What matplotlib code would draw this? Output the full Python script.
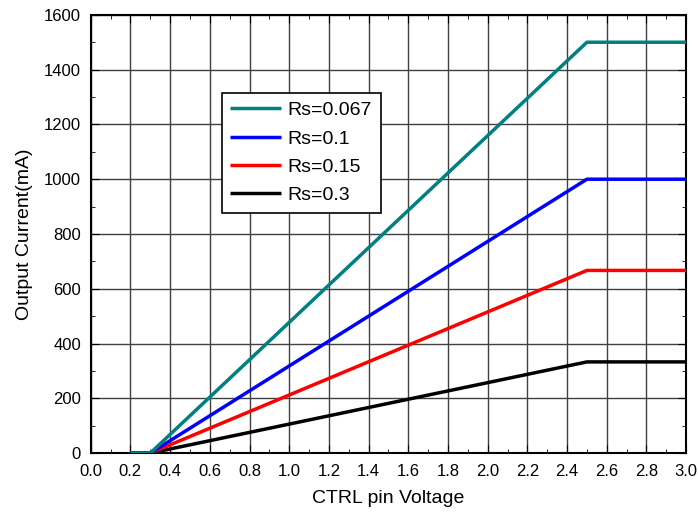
import matplotlib.pyplot as plt
from matplotlib.ticker import MultipleLocator

plt.rcParams['font.family'] = ['Liberation Sans', 'DejaVu Sans']

# CTRL pin voltage breakpoints
v = [0.2, 0.3, 2.5, 3.0]

# output current for each sense resistor (mA)
rs_labels = ['Rs=0.067', 'Rs=0.1', 'Rs=0.15', 'Rs=0.3']
i_067 = [0, 0, 1500, 1500]
i_01 = [0, 0, 1000, 1000]
i_015 = [0, 0, 667, 667]
i_03 = [0, 0, 333, 333]
colors = ['#008080', '#0000ff', '#ff0000', '#000000']

fig = plt.figure(figsize=(6.98, 5.12), dpi=100)
ax = fig.add_axes([0.130, 0.115, 0.853, 0.856])

series = [i_067, i_01, i_015, i_03]
# draw black first so teal ends up on top
for k in reversed(range(4)):
    ax.plot(v, series[k], color=colors[k], lw=2.5, label=rs_labels[k],
            solid_capstyle='butt', zorder=3 + (4 - k))

ax.set_xlim(0, 3.0)
ax.set_ylim(0, 1600)
ax.xaxis.set_major_locator(MultipleLocator(0.2))
ax.xaxis.set_minor_locator(MultipleLocator(0.1))
ax.yaxis.set_major_locator(MultipleLocator(200))
ax.yaxis.set_minor_locator(MultipleLocator(100))
ax.set_xticklabels([f'{x:.1f}' for x in ax.get_xticks()])
ax.tick_params(which='both', direction='in', top=True, right=True, labelsize=12)
ax.tick_params(which='major', length=6)
ax.tick_params(which='minor', length=3)
ax.tick_params(axis='x', pad=8)
ax.tick_params(axis='y', pad=7)
ax.grid(True, which='major', color='#404040', lw=1)
for s in ax.spines.values():
    s.set_linewidth(1.5)

ax.set_xlabel('CTRL pin Voltage', fontsize=14, labelpad=8)
ax.set_ylabel('Output Current(mA)', fontsize=14, labelpad=8)

h, l = ax.get_legend_handles_labels()
leg = ax.legend(h[::-1], l[::-1], loc='upper left', bbox_to_anchor=(0.22, 0.822),
                borderaxespad=0, fontsize=14, frameon=True, fancybox=False,
                edgecolor='black', framealpha=1, handlelength=2.6,
                handletextpad=0.35, borderpad=0.45, labelspacing=0.55,
                handleheight=0.7)
leg.get_frame().set_linewidth(1.2)

fig.savefig('out.png', dpi=100)
